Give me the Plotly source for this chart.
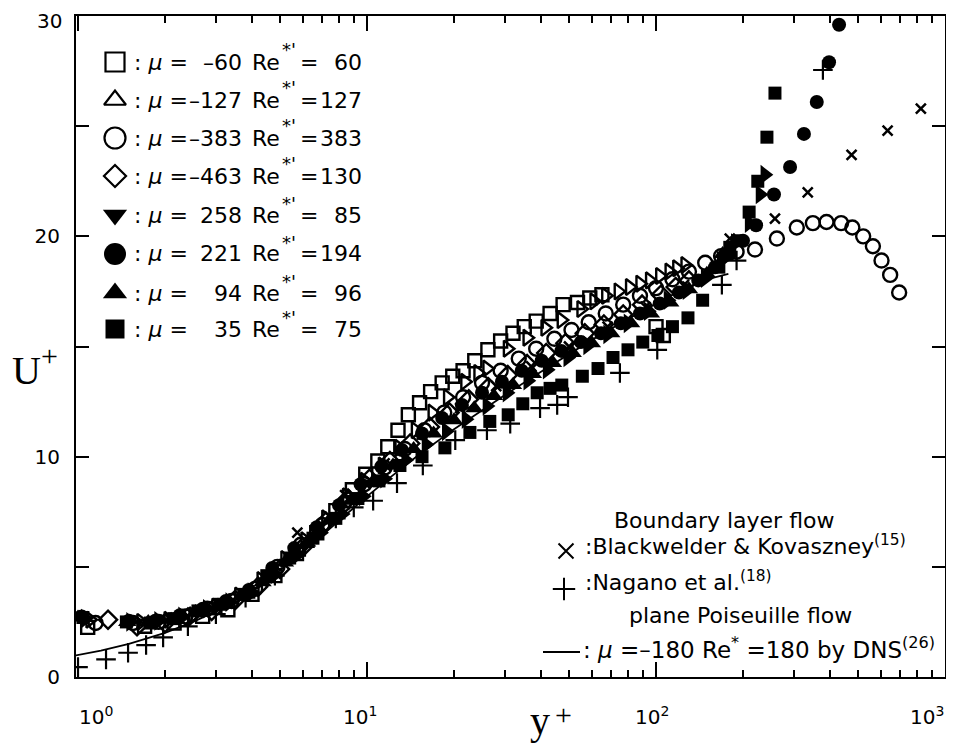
import plotly.graph_objects as go

# ---------------- data (y+ , U+) ----------------
# DNS, plane Poiseuille flow, mu=-180, Re*=180
DNS_YP = [0.98, 1.2, 1.5, 2.0, 2.5, 3.0, 4.0, 5.0, 6.0, 7.0, 8.0, 10.0, 12.0, 15.0, 20.0,
          25.0, 30.0, 40.0, 50.0, 60.0, 80.0, 100.0, 120.0, 150.0, 178.0]
DNS_UP = [0.98, 1.2, 1.5, 2.0, 2.5, 2.98, 3.93, 4.83, 5.67, 6.43, 7.1, 8.2, 9.05, 10.05, 11.25,
          12.1, 12.8, 13.85, 14.65, 15.3, 16.25, 16.95, 17.5, 18.05, 18.3]

# open squares: mu=-60, Re*'=60
SQ_O_YP = [1.08, 1.7, 2.15, 2.7, 3.3, 4.0, 4.8, 5.7, 6.7, 7.8, 8.9, 9.9, 10.9, 11.8, 12.8, 13.9,
           15.2, 16.6, 18.2, 19.8, 21.5, 23.6, 26.2, 29.0, 32.0, 35.0, 38.5, 43.0, 47.7, 53.5,
           59.0, 65.0, 100.0, 106.0]
SQ_O_UP = [2.25, 2.3, 2.45, 2.75, 3.05, 3.75, 4.6, 5.6, 6.55, 7.55, 8.5, 9.2, 9.8, 10.45, 11.2, 11.9,
           12.45, 12.95, 13.35, 13.65, 13.9, 14.35, 14.85, 15.25, 15.6, 15.9, 16.15, 16.5, 16.9, 17.0,
           17.2, 17.35, 15.9, 15.5]

# open triangles: mu=-127, Re*'=127
TR_O_YP = [1.1, 1.65, 2.05, 2.5, 3.0, 3.6, 4.3, 5.2, 6.1, 7.2, 8.5, 9.8, 11.3, 12.9, 14.7, 16.8,
           19.0, 21.8, 24.2, 26.0, 30.6, 35.8, 41.3, 47.0, 55.0, 61.0, 67.0, 74.0, 81.0, 88.0,
           95.0, 103.0, 111.0, 118.0, 126.0]
TR_O_UP = [2.6, 2.5, 2.6, 2.8, 3.2, 3.7, 4.4, 5.35, 6.2, 7.2, 8.2, 8.9, 9.6, 10.4, 11.2, 12.0,
           12.7, 13.4, 13.8, 14.0, 14.9, 15.4, 15.85, 16.2, 16.7, 17.05, 17.3, 17.5, 17.7, 17.85,
           18.0, 18.2, 18.4, 18.55, 18.7]

# open circles: mu=-383, Re*'=383
CI_O_YP = [1.15, 1.55, 1.9, 2.35, 2.8, 3.4, 4.1, 4.9, 5.9, 7.0, 8.3, 9.8, 11.5, 13.5, 15.8, 18.5,
           21.5, 25.0, 29.0, 33.5, 38.5, 44.5, 51.0, 58.5, 67.0, 77.0, 88.0, 100.0, 114.0, 130.0,
           148.0, 168.0, 190.0, 220.0, 262.0, 307.0, 349.0, 389.0, 437.0, 478.0, 521.0, 563.0,
           603.0, 646.0, 694.0]
CI_O_UP = [2.45, 2.45, 2.5, 2.75, 3.1, 3.45, 4.0, 5.0, 6.0, 6.9, 7.85, 8.75, 9.5, 10.35, 11.2, 12.0,
           12.7, 13.35, 13.9, 14.45, 14.9, 15.35, 15.75, 16.1, 16.5, 16.9, 17.3, 17.65, 18.05, 18.4,
           18.8, 19.1, 19.3, 19.4, 19.9, 20.4, 20.6, 20.65, 20.6, 20.4, 20.0, 19.55,
           18.9, 18.25, 17.45]

# open diamonds: mu=-463, Re*'=130
DI_O_YP = [1.27, 1.6, 2.0, 2.4, 2.9, 3.5, 4.2, 5.0, 6.0, 7.2, 8.6, 10.2, 12.0, 14.1, 16.5, 19.3,
           22.5, 26.3, 30.7, 35.8, 41.7, 48.6, 56.7, 66.0, 77.0, 89.5, 104.0, 117.0, 130.0]
DI_O_UP = [2.6, 2.3, 2.45, 2.7, 3.0, 3.5, 4.1, 4.9, 5.9, 7.05, 8.1, 9.0, 9.8, 10.6, 11.35, 12.0,
           12.6, 13.15, 13.7, 14.2, 14.7, 15.15, 15.6, 16.0, 16.45, 16.9, 17.35, 17.7, 18.0]

# filled down-triangles: mu=258, Re*'=85
TD_F_YP = [1.06, 1.52, 1.9, 2.3, 2.8, 3.35, 4.0, 4.8, 5.75, 6.9, 8.2, 9.7, 11.5, 13.6, 16.0, 18.8,
           22.0, 26.0, 30.5, 36.0, 42.0, 49.5, 58.0, 68.0, 80.0, 94.0, 110.0, 128.0, 148.0, 168.0,
           188.0, 210.0, 229.0, 238.0]
TD_F_UP = [2.65, 2.5, 2.55, 2.75, 3.1, 3.4, 3.85, 4.65, 5.55, 6.55, 7.4, 8.2, 9.0, 9.85, 10.55, 11.15,
           11.7, 12.3, 12.9, 13.45, 13.95, 14.5, 15.05, 15.55, 16.05, 16.6, 17.1, 17.55, 18.1, 18.9,
           19.7, 20.6, 21.9, 22.8]

# filled circles: mu=221, Re*'=194
CI_F_YP = [1.03, 1.5, 1.85, 2.25, 2.7, 3.25, 3.9, 4.7, 5.6, 6.7, 8.0, 9.5, 11.2, 13.2, 15.5, 18.2,
           21.3, 25.0, 29.3, 34.3, 40.2, 47.0, 55.0, 64.5, 75.5, 88.0, 103.0, 120.0, 140.0, 160.0,
           180.0, 200.0, 222.0, 256.0, 291.0, 325.0, 360.0, 397.0, 430.0]
CI_F_UP = [2.75, 2.55, 2.55, 2.8, 3.1, 3.45, 3.95, 4.95, 5.85, 6.8, 7.8, 8.75, 9.55, 10.3, 11.05, 11.75,
           12.35, 12.9, 13.4, 13.9, 14.35, 14.8, 15.2, 15.6, 16.05, 16.5, 16.95, 17.45, 18.0, 18.6,
           19.2, 19.8, 20.5, 21.9, 23.15, 24.65, 26.1, 27.9, 29.6]

# filled up-triangles: mu=94, Re*'=96
TU_F_YP = [1.0, 1.48, 1.75, 2.1, 2.55, 3.05, 3.65, 4.35, 5.2, 6.2, 7.4, 8.8, 10.4, 12.3, 14.5, 17.0,
           20.0, 23.5, 27.5, 32.0, 37.5, 44.0, 51.5, 60.0, 70.0, 82.0, 96.0, 112.0, 130.0, 150.0, 170.0]
TU_F_UP = [2.7, 2.5, 2.5, 2.6, 2.95, 3.25, 3.65, 4.3, 5.2, 6.1, 7.1, 8.0, 8.8, 9.6, 10.35, 11.05,
           11.65, 12.2, 12.75, 13.25, 13.75, 14.25, 14.7, 15.15, 15.6, 16.05, 16.5, 17.0, 17.6, 18.3, 19.2]

# filled squares: mu=35, Re*'=75
SQ_F_YP = [1.04, 1.47, 1.78, 2.15, 2.6, 3.1, 3.75, 4.5, 5.4, 6.5, 7.8, 9.3, 11.0, 13.0, 15.5, 18.6,
           22.7, 26.6, 30.8, 34.6, 38.8, 43.0, 47.2, 55.6, 63.0, 71.0, 80.0, 90.0, 101.5, 114.0,
           129.0, 145.0, 165.0, 180.0, 192.0, 210.0, 225.0, 242.0, 258.0]
SQ_F_UP = [2.7, 2.5, 2.45, 2.65, 3.0, 3.3, 3.75, 4.6, 5.4, 6.3, 7.2, 8.1, 8.9, 9.6, 10.0, 10.4,
           11.1, 11.6, 11.9, 12.4, 12.9, 13.1, 13.25, 13.65, 14.0, 14.5, 14.85, 15.2, 15.5, 15.9,
           16.3, 17.1, 18.6, 19.5, 19.8, 21.1, 22.5, 24.5, 26.5]

# boundary layer flow, Blackwelder & Kovaszney
BK_YP = [5.74, 8.4, 11.5, 15.5, 21.0, 28.0, 37.0, 50.0, 68.0, 92.0, 125.0, 180.0, 258.0, 335.0,
         475.0, 633.0, 825.0]
BK_UP = [6.55, 8.25, 9.7, 11.0, 12.2, 13.2, 14.1, 15.0, 15.9, 16.8, 17.8, 19.9, 20.8, 22.0,
         23.7, 24.8, 25.8]

# boundary layer flow, Nagano et al.
NA_YP = [1.0, 1.25, 1.49, 1.72, 1.97, 2.4, 3.0, 3.8, 4.8, 6.1, 7.8, 9.0, 10.5, 12.7, 15.6, 20.2,
         26.0, 31.3, 39.7, 45.5, 49.6, 75.0, 101.0, 169.0, 190.0, 378.0]
NA_UP = [0.45, 0.8, 1.1, 1.45, 1.8, 2.3, 2.85, 3.6, 4.6, 5.9, 7.2, 7.7, 8.0, 8.8, 9.6, 10.75,
         11.2, 11.5, 12.2, 12.35, 12.7, 13.8, 14.85, 17.8, 18.9, 27.55]

# legend texts (upper left)
LEG_MU = ["\u201360", "\u2013127", "\u2013383", "\u2013463", "258", "221", "94", "35"]
LEG_RE = ["60", "127", "383", "130", "85", "194", "96", "75"]

Y_TICKS = [0, 10, 20, 30]
Y_TICK_TEXT = ["0", "10", "20", ""]  # "30" is placed as an annotation so it stays inside the page
X_TICKS = [1, 10, 100, 1000]
X_TICK_TEXT = ["10<sup>0</sup>", "10<sup>1</sup>", "10<sup>2</sup>", "10<sup>3</sup>"]
X_MINOR = [m * d for d in (1, 10, 100) for m in range(2, 10)]

# ---------------- styling ----------------
SANS = "DejaVu Sans"
SERIF = "Liberation Serif"
# the page body adds an 8 px margin, so the figure itself is 8 px smaller
OFF = 8
W, H = 954 - OFF, 755 - OFF
L, R, T, B = 76, 945, 16, 677  # plot area in screen pixels


def px(x):
    return (x - L) / (R - L)


def py(y):
    return (B - y) / (B - T)


def mk(symbol, size, filled=True, lw=2.0):
    if filled:
        return dict(symbol=symbol, size=size, color="black", line=dict(width=0))
    return dict(symbol=symbol, size=size, color="black", line=dict(width=lw, color="black"))


series = [
    (SQ_O_YP, SQ_O_UP, mk("square-open", 13, False, 2.4)),
    (TR_O_YP, TR_O_UP, mk("triangle-right-open", 14, False, 2.4)),
    (CI_O_YP, CI_O_UP, mk("circle-open", 14, False, 2.4)),
    (DI_O_YP, DI_O_UP, mk("diamond-open", 14, False, 2.4)),
    (TD_F_YP, TD_F_UP, mk("triangle-right", 17)),
    (CI_F_YP, CI_F_UP, mk("circle", 14)),
    (TU_F_YP, TU_F_UP, mk("triangle-up", 16)),
    (SQ_F_YP, SQ_F_UP, mk("square", 13)),
    (BK_YP, BK_UP, mk("x-thin", 10, False, 2.5)),
    (NA_YP, NA_UP, mk("cross-thin", 14, False, 2.2)),
]

fig = go.Figure()

fig.add_trace(go.Scatter(x=DNS_YP, y=DNS_UP, mode="lines", line=dict(color="black", width=1.8),
                         hoverinfo="skip"))
for xs, ys, marker in series:
    fig.add_trace(go.Scatter(x=xs, y=ys, mode="markers", marker=marker, hoverinfo="skip"))

# legend symbols, drawn on a pixel-scaled overlay axis pair
LEG_ROW_Y = [62, 100, 138, 176, 215, 254, 293, 329]
LEG_SYMBOLS = [
    mk("square-open", 19, False, 2.2), mk("triangle-up-open", 19, False, 2.2),
    mk("circle-open", 21, False, 2.2), mk("diamond-open", 17, False, 2.2),
    mk("triangle-down", 21), mk("circle", 22), mk("triangle-up", 21), mk("square", 19),
]
for row_y, marker in zip(LEG_ROW_Y, LEG_SYMBOLS):
    fig.add_trace(go.Scatter(x=[115], y=[row_y], xaxis="x2", yaxis="y2", mode="markers",
                             marker=marker, hoverinfo="skip", cliponaxis=False))
fig.add_trace(go.Scatter(x=[566], y=[551], xaxis="x2", yaxis="y2", mode="markers",
                         marker=mk("x-thin", 15, False, 2.0), hoverinfo="skip", cliponaxis=False))
fig.add_trace(go.Scatter(x=[564], y=[589], xaxis="x2", yaxis="y2", mode="markers",
                         marker=mk("cross-thin", 16, False, 2.0), hoverinfo="skip", cliponaxis=False))

annotations = []


def ann(text, x, y, xanchor="left", size=22, family=SANS, yanchor="middle"):
    annotations.append(dict(text=text, x=px(x), y=py(y), xref="paper", yref="paper",
                            xanchor=xanchor, yanchor=yanchor, showarrow=False, borderpad=0,
                            font=dict(family=family, size=size, color="black")))


for row_y, mu, re in zip(LEG_ROW_Y, LEG_MU, LEG_RE):
    ann(": <i>\u03bc</i> =", 133, row_y)
    ann(mu, 243, row_y, xanchor="right")
    ann("Re", 251, row_y)
    ann("*'", 281, row_y - 12, size=18)
    ann("=", 299, row_y)
    ann(re, 363, row_y, xanchor="right")

ann("Boundary layer flow", 724, 520, xanchor="center")
ann(":Blackwelder & Kovaszney<sup>(15)</sup>", 584, 545)
ann(":Nagano et al.<sup>(18)</sup>", 584, 581)
ann("plane Poiseuille flow", 740, 615, xanchor="center")
ann(": <i>\u03bc</i> =\u2013180 Re<sup>*</sup> =180 by DNS<sup>(26)</sup>", 582, 648, size=23)

for txt, cx in zip(X_TICK_TEXT, [96, 360, 652, 927]):
    ann(txt, cx, 702, xanchor="center", size=20, yanchor="top")
ann("30", 63, 21, xanchor="right", size=20)

ann("U", 26, 370, xanchor="center", size=40, family=SERIF)
ann("+", 49, 356, xanchor="center", size=30, family=SERIF)
ann("y", 540, 720, xanchor="center", size=40, family=SERIF)
ann("+", 563, 714, xanchor="center", size=30, family=SERIF)

fig.add_shape(type="line", xref="paper", yref="paper", x0=px(543), x1=px(580), y0=py(652), y1=py(652),
              line=dict(color="black", width=2))

axis_common = dict(showline=True, linewidth=2, linecolor="black", mirror="allticks", showgrid=False,
                   zeroline=False, ticks="inside", tickcolor="black", tickwidth=1.5, automargin=False)

fig.update_layout(
    width=W, height=H,
    margin=dict(l=L - OFF, r=954 - R, t=T - OFF, b=755 - B, pad=0, autoexpand=False),
    paper_bgcolor="white", plot_bgcolor="white",
    showlegend=False,
    annotations=annotations,
    xaxis=dict(type="log", range=[-0.007, 3.0], tickvals=X_TICKS, showticklabels=False, ticklen=15,
               minor=dict(tickvals=X_MINOR, ticks="inside", ticklen=7, tickwidth=1.5, tickcolor="black",
                          showgrid=False),
               **axis_common),
    yaxis=dict(range=[0, 30], tickvals=Y_TICKS, ticktext=Y_TICK_TEXT, ticklen=13, ticklabelstandoff=10,
               tickfont=dict(family=SANS, size=20, color="black"),
               minor=dict(tickvals=[5, 15, 25], ticks="inside", ticklen=13, tickwidth=1.5, tickcolor="black",
                          showgrid=False),
               **axis_common),
    xaxis2=dict(overlaying="x", range=[L, R], visible=False),
    yaxis2=dict(overlaying="y", range=[B, T], visible=False),
)

fig.write_html("out.html")
